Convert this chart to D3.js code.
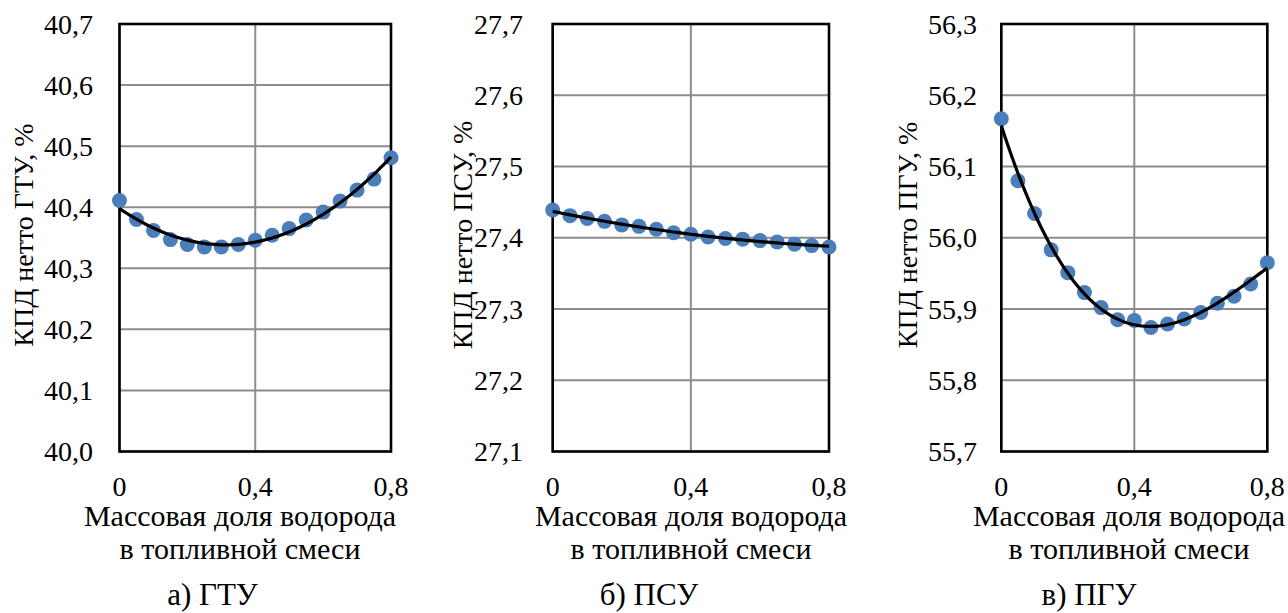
<!DOCTYPE html>
<html>
<head>
<meta charset="utf-8">
<script src="https://cdn.jsdelivr.net/npm/d3@7"></script>
<style>
  body { margin: 0; background: #fff; }
</style>
</head>
<body>
<svg id="chart" width="1288" height="613"></svg>
<script>
// data
const xShares = [0, 0.05, 0.1, 0.15, 0.2, 0.25, 0.3, 0.35, 0.4, 0.45, 0.5, 0.55, 0.6, 0.65, 0.7, 0.75, 0.8];
const gtuEff = [40.411, 40.380, 40.362, 40.347, 40.339, 40.335, 40.335, 40.339, 40.346, 40.354, 40.365, 40.379, 40.392, 40.410, 40.428, 40.446, 40.481];
const psuEff = [27.439, 27.431, 27.427, 27.423, 27.418, 27.416, 27.412, 27.407, 27.405, 27.401, 27.399, 27.398, 27.396, 27.394, 27.391, 27.389, 27.387];
const pguEff = [56.167, 56.080, 56.034, 55.983, 55.951, 55.923, 55.902, 55.885, 55.884, 55.874, 55.879, 55.886, 55.895, 55.908, 55.918, 55.935, 55.965];

const xTicks = [0, 0.4, 0.8];
const gtuTicks = [40.0, 40.1, 40.2, 40.3, 40.4, 40.5, 40.6, 40.7];
const psuTicks = [27.1, 27.2, 27.3, 27.4, 27.5, 27.6, 27.7];
const pguTicks = [55.7, 55.8, 55.9, 56.0, 56.1, 56.2, 56.3];

const yTitles = ["КПД нетто ГТУ, %", "КПД нетто ПСУ, %", "КПД нетто ПГУ, %"];
const captions = ["а) ГТУ", "б) ПСУ", "в) ПГУ"];
const xTitleLines = ["Массовая доля водорода", "в топливной смеси"];

const svg = d3.select("#chart");
const fmt = d3.formatLocale({decimal: ",", thousands: " ", grouping: [3], currency: ["", ""]});
const fmtY = fmt.format(".1f");
const fmtX = v => v === 0 ? "0" : fmt.format(".1f")(v);

// layout of each panel
const panels = [
    {values: gtuEff, ticks: gtuTicks, order: 2, left: 119.5, right: 391, tickEnd: 93, titleX: 33, xTitle: 240, caption: 212.5},
    {values: psuEff, ticks: psuTicks, order: 2, left: 552.7, right: 829, tickEnd: 523, titleX: 472, xTitle: 691, caption: 649},
    {values: pguEff, ticks: pguTicks, order: 3, left: 1001.3, right: 1267.3, tickEnd: 977, titleX: 917, xTitle: 1129, caption: 1089}
];
const plotTop = 24, plotBottom = 451.5;

// least squares polynomial (trendline like in excel)
function polyFit(xs, ys, order) {
    const n = order + 1;
    const A = [];
    for (let i = 0; i < n; i++) {
        A.push(new Array(n + 1).fill(0));
        for (let j = 0; j < n; j++) {
            A[i][j] = d3.sum(xs, x => Math.pow(x, i + j));
        }
        A[i][n] = d3.sum(xs, (x, k) => ys[k] * Math.pow(x, i));
    }
    for (let c = 0; c < n; c++) {
        let p = c;
        for (let r = c + 1; r < n; r++) if (Math.abs(A[r][c]) > Math.abs(A[p][c])) p = r;
        [A[c], A[p]] = [A[p], A[c]];
        for (let r = 0; r < n; r++) {
            if (r === c) continue;
            const f = A[r][c] / A[c][c];
            for (let k = c; k <= n; k++) A[r][k] -= f * A[c][k];
        }
    }
    const coef = A.map((row, i) => row[n] / row[i]);
    return x => coef.reduce((s, c, i) => s + c * Math.pow(x, i), 0);
}

panels.forEach((p, idx) => {
    const g = svg.append("g");
    const x = d3.scaleLinear().domain([0, 0.8]).range([p.left, p.right]);
    const y = d3.scaleLinear().domain(d3.extent(p.ticks)).range([plotBottom, plotTop]);

    // gridlines
    g.selectAll("line.hgrid").data(p.ticks).enter().append("line")
        .attr("x1", p.left).attr("x2", p.right)
        .attr("y1", d => y(d)).attr("y2", d => y(d))
        .attr("stroke", "#8c8c8c").attr("stroke-width", 2);
    g.selectAll("line.vgrid").data(xTicks).enter().append("line")
        .attr("x1", d => x(d)).attr("x2", d => x(d))
        .attr("y1", plotTop).attr("y2", plotBottom)
        .attr("stroke", "#8c8c8c").attr("stroke-width", 2);

    // frame
    g.append("rect")
        .attr("x", p.left).attr("y", plotTop)
        .attr("width", p.right - p.left).attr("height", plotBottom - plotTop)
        .attr("fill", "none").attr("stroke", "#000").attr("stroke-width", 2.6);

    // tick labels
    g.selectAll("text.ytick").data(p.ticks).enter().append("text")
        .attr("class", "lbl")
        .attr("x", p.tickEnd).attr("y", d => y(d)).attr("dy", "0.34em")
        .attr("text-anchor", "end")
        .text(fmtY);
    g.selectAll("text.xtick").data(xTicks).enter().append("text")
        .attr("class", "lbl")
        .attr("x", d => x(d)).attr("y", 496)
        .attr("text-anchor", "middle")
        .text(fmtX);

    // points
    const pts = xShares.map((d, i) => [d, p.values[i]]);
    g.selectAll("circle").data(pts).enter().append("circle")
        .attr("cx", d => x(d[0])).attr("cy", d => y(d[1])).attr("r", 7.5)
        .attr("fill", "#4a7ebb");

    // trendline
    const f = polyFit(xShares, p.values, p.order);
    const curve = d3.range(0, 0.8001, 0.01).map(v => [v, f(v)]);
    g.append("path").datum(curve)
        .attr("d", d3.line().x(d => x(d[0])).y(d => y(d[1])))
        .attr("fill", "none").attr("stroke", "#000").attr("stroke-width", 3.2);

    // titles
    g.append("text")
        .attr("class", "lbl")
        .attr("transform", `translate(${p.titleX},235) rotate(-90)`)
        .attr("text-anchor", "middle")
        .text(yTitles[idx]);
    g.selectAll("text.xtitle").data(xTitleLines).enter().append("text")
        .attr("x", p.xTitle).attr("y", (d, i) => 526 + i * 33)
        .attr("text-anchor", "middle").attr("font-size", 30)
        .text(d => d);
    g.append("text")
        .attr("x", p.caption).attr("y", 605)
        .attr("text-anchor", "middle").attr("font-size", 31)
        .text(captions[idx]);
});

// same font on every label
svg.selectAll("text")
    .attr("font-family", "Liberation Serif")
    .attr("fill", "#000");
svg.selectAll("text.lbl").attr("font-size", 28);
</script>
</body>
</html>
